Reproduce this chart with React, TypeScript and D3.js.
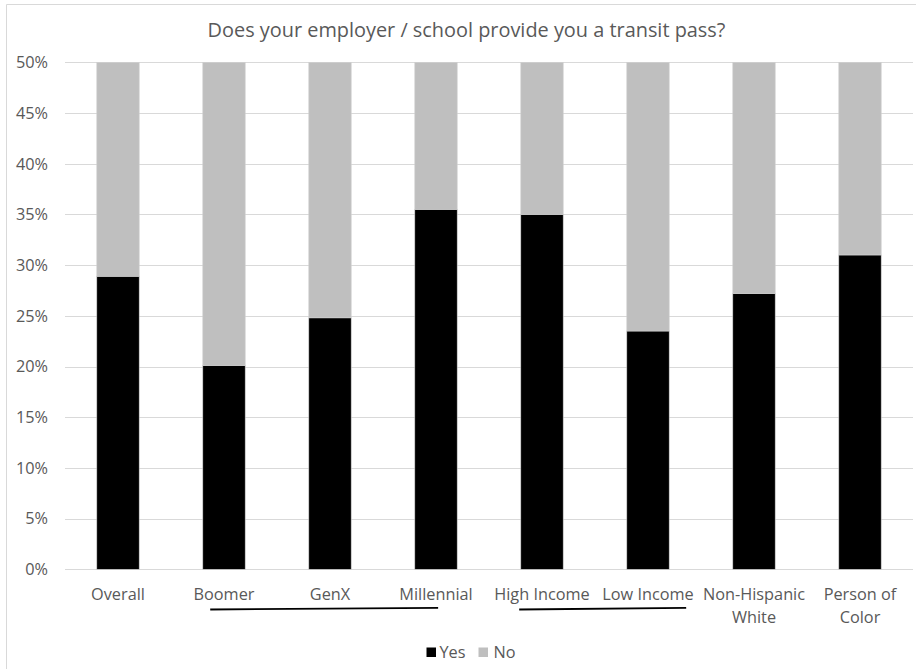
import React from "react";
import * as d3 from "d3";

const categories = ["Overall", "Boomer", "GenX", "Millennial", "High Income", "Low Income", "Non-Hispanic\nWhite", "Person of\nColor"];
const yesValues = [28.9, 20.1, 24.8, 35.5, 35.0, 23.5, 27.2, 31.0];
const noValues = [71.1, 79.9, 75.2, 64.5, 65.0, 76.5, 72.8, 69.0];
const yTicks = [0, 5, 10, 15, 20, 25, 30, 35, 40, 45, 50];
const yTickLabels = ["0%", "5%", "10%", "15%", "20%", "25%", "30%", "35%", "40%", "45%", "50%"];
const seriesNames = ["Yes", "No"];
const groups = [
  { from: "Boomer", to: "Millennial" },
  { from: "High Income", to: "Low Income" },
];
const title = "Does your employer / school provide you a transit pass?";

const W = 916;
const H = 669;
const FONT = "'Open Sans', 'DejaVu Sans', sans-serif";
const TEXT = "#595959";
const COLORS = ["#000000", "#bfbfbf"];
const FS = 16.3;

export default function App() {
  const x = d3.scaleBand<string>().domain(categories).range([65, 913]).paddingInner(0.6).paddingOuter(0.3);
  const y = d3.scaleLinear().domain([0, 50]).range([569.3, 62.3]);
  const step = x.step();
  const cx = (c: string) => (x(c) as number) + x.bandwidth() / 2;

  const table = categories.map((c, i) => ({ cat: c, Yes: yesValues[i], No: noValues[i] }));
  const stacked = d3.stack<any>().keys(seriesNames)(table);

  const groupFrom = (name: string) => categories.find((c) => c === name) as string;
  const startOff = [-0.13, -0.215];
  const endOff = [0.02, 0.36];

  return (
    <div style={{ position: "absolute", left: 0, top: 0 }}>
      <svg width={W} height={H} style={{ display: "block", fontFamily: FONT }}>
        <rect x={0} y={0} width={W} height={H} fill="#fff" />
        <line x1={6.5} y1={4.5} x2={W + 2} y2={4.5} stroke="#d9d9d9" />
        <line x1={6.5} y1={4.5} x2={6.5} y2={H + 2} stroke="#d9d9d9" />
        <text x={466.5} y={37} textAnchor="middle" fill={TEXT} fontSize={19.9}>
          {title}
        </text>
        {yTicks.map((t, i) => (
          <g key={t}>
            <line x1={65} x2={913} y1={Math.round(y(t)) + 0.5} y2={Math.round(y(t)) + 0.5} stroke="#d9d9d9" strokeWidth={1} />
            <text x={48} y={y(t) + 5.8} textAnchor="end" fill={TEXT} fontSize={FS}>
              {yTickLabels[i]}
            </text>
          </g>
        ))}
        {stacked.map((s, si) => (
          <g key={s.key}>
            {s.map((d: any, i: number) => {
              const y0 = Math.min(d[0], 50);
              const y1 = Math.min(d[1], 50);
              if (y1 <= y0) return null;
              return (
                <rect
                  key={i}
                  x={x(categories[i])}
                  width={x.bandwidth()}
                  y={y(y1)}
                  height={y(y0) - y(y1)}
                  fill={COLORS[si]}
                  stroke="#d0d0d0"
                  strokeWidth={0.6}
                />
              );
            })}
          </g>
        ))}
        {categories.map((c) => {
          const lines = c.split("\n");
          return (
            <text key={c} x={cx(c)} y={599.5} textAnchor="middle" fill={TEXT} fontSize={FS}>
              {lines.map((l, li) => (
                <tspan key={li} x={cx(c)} dy={li === 0 ? 0 : 23.5}>
                  {l}
                </tspan>
              ))}
            </text>
          );
        })}
        {groups.map((g, gi) => {
          const x1 = cx(groupFrom(g.from)) + startOff[gi] * step;
          const x2 = cx(groupFrom(g.to)) + endOff[gi] * step;
          return <line key={gi} x1={x1} y1={609.5} x2={x2} y2={607.8} stroke="#000" strokeWidth={1.8} />;
        })}
        <g>
          <rect x={426.5} y={647.5} width={9.5} height={9.5} fill={COLORS[0]} />
          <text x={439.5} y={657.5} fill={TEXT} fontSize={FS}>{seriesNames[0]}</text>
          <rect x={478.5} y={647.5} width={9.5} height={9.5} fill={COLORS[1]} />
          <text x={493.5} y={657.5} fill={TEXT} fontSize={FS}>{seriesNames[1]}</text>
        </g>
      </svg>
    </div>
  );
}
